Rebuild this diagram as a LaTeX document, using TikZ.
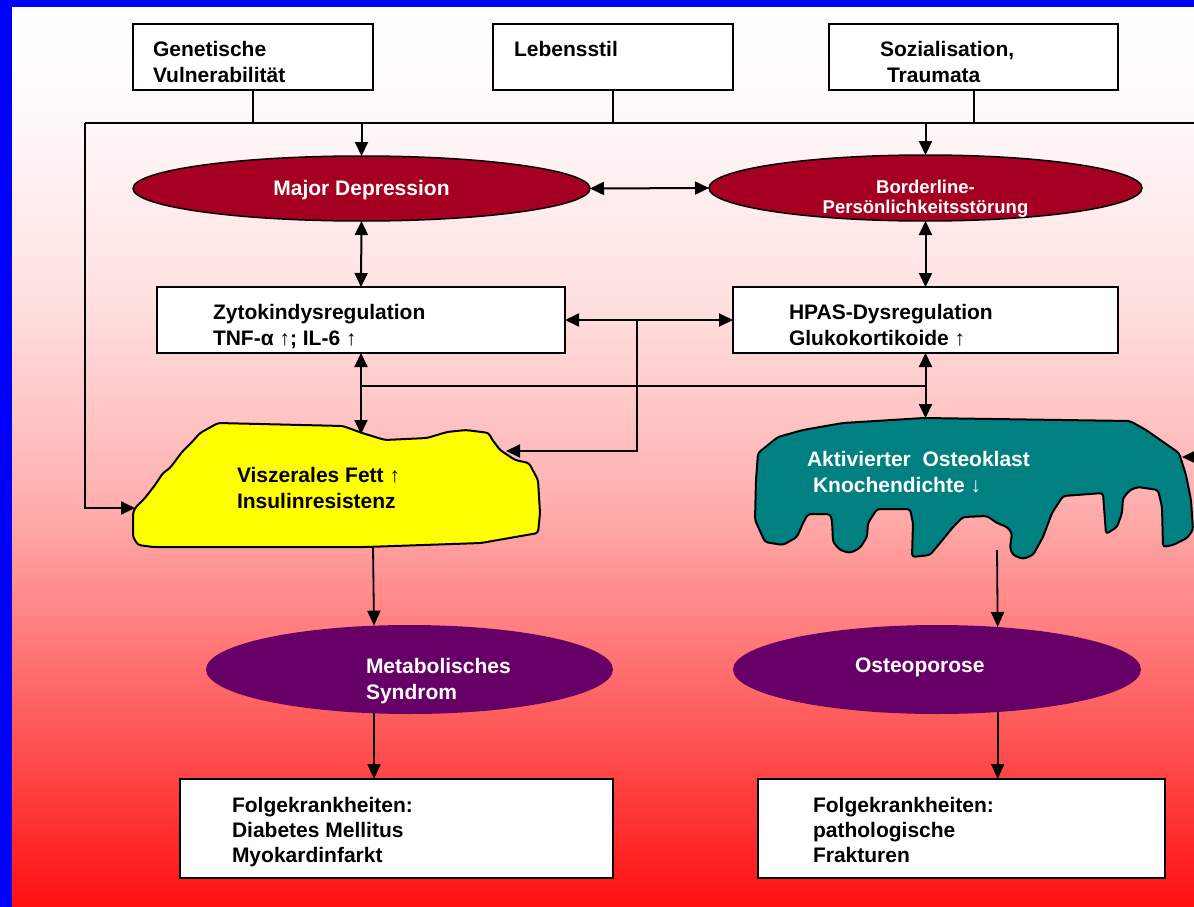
\documentclass[tikz,border=0pt]{standalone}
\usepackage{fontspec}
\setmainfont{Liberation Sans}
\usetikzlibrary{arrows.meta,shapes.geometric}
\definecolor{bgblue}{HTML}{0000FF}
\definecolor{mdred}{HTML}{A50021}
\definecolor{purp}{HTML}{660066}
\definecolor{tealc}{HTML}{008080}
\definecolor{yel}{HTML}{FFFF00}
\colorlet{bgA}{red!94!white}
\colorlet{bgB}{red!69!white}
\colorlet{bgC}{red!40!white}
\colorlet{bgD}{red!31!white}
\colorlet{bgE}{red!12!white}
\colorlet{bgF}{red!2!white}
\pgfdeclareverticalshading{bgshade}{100bp}{color(0bp)=(bgA); color(25bp)=(bgA); color(33.73bp)=(bgB); color(44.3bp)=(bgC); color(47.64bp)=(bgD); color(58.76bp)=(bgE); color(69.88bp)=(bgF); color(75bp)=(white); color(100bp)=(white)}
% text block: #1 = offset of left edge from node centre, #2 = lift of first baseline
\newcommand\txtat[3]{\makebox[0pt][l]{\hspace*{#1}\raisebox{#2}[0pt][0pt]{\begin{tabular}[t]{@{}l@{}}#3\end{tabular}}}}
\newcommand\ctxt[2]{\makebox[0pt][c]{\raisebox{#1}[0pt][0pt]{\begin{tabular}[t]{@{}c@{}}#2\end{tabular}}}}
\newcommand\uarr{{\mdseries ↑}}
\newcommand\darr{{\mdseries ↓}}
\begin{document}
\begin{tikzpicture}[x=1pt,y=-1pt,
  every node/.style={inner sep=0pt, outer sep=0pt, font=\fontsize{21}{26}\selectfont\bfseries},
  box/.style={rectangle, draw=black, fill=white, line width=2pt, minimum height=66pt},
  oval/.style={ellipse, fill=mdred, draw=black, line width=1.5pt, text=white},
  poval/.style={ellipse, fill=purp, text=white, minimum height=89pt},
  blob/.style={draw=black, line width=2pt, rounded corners=3pt},
  conn/.style={line width=2pt},
  arr/.style={conn, -{Triangle[length=14pt,width=13pt]}},
  darr/.style={conn, {Triangle[length=14pt,width=13pt]}-{Triangle[length=14pt,width=13pt]}},
  botarr/.style={line width=1.8pt, -{Triangle[length=15pt,width=13pt]}},
]
\useasboundingbox (0,0) rectangle (1194,907);
\clip (0,0) rectangle (1194,907);
\fill[bgblue] (0,0) rectangle (1194,907);
\shade[shading=bgshade] (12,8) rectangle (1194,907);

% top boxes
\node[box, minimum width=240pt] (gen) at (253,57) {\txtat{-100pt}{1pt}{Genetische\\Vulnerabilität}};
\node[box, minimum width=240pt] (leb) at (613,57) {\txtat{-99pt}{1pt}{Lebensstil}};
\node[box, minimum width=289pt] (soz) at (973.5,57) {\txtat{-93.5pt}{1pt}{Sozialisation,\\\hspace*{7pt}Traumata}};

% ellipses
\node[oval, minimum width=457pt, minimum height=65pt] (md) at (361.5,188.5) {\ctxt{-6.5pt}{Major Depression}};
\node[oval, minimum width=433pt, minimum height=66pt, font=\fontsize{18.5}{20}\selectfont\bfseries] (bp) at (925.5,188) {\ctxt{-5pt}{Borderline-\\Persönlichkeitsstörung}};

% regulation boxes
\node[box, minimum width=408pt] (zyt) at (361,320) {\txtat{-148pt}{1pt}{Zytokindysregulation\\TNF-α \uarr; IL-6 \uarr}};
\node[box, minimum width=385pt] (hpa) at (925.5,320) {\txtat{-136.5pt}{1pt}{HPAS-Dysregulation\\Glukokortikoide \uarr}};

% blobs
\filldraw[blob, fill=yel] (218,423) -- (343,426) -- (362,433) -- (385,440) -- (427,438)
 -- (447,432) -- (466,430) -- (489,433) -- (491,438) -- (500,450) -- (515,460) -- (529,463)
 -- (538,480) -- (540,513) -- (538,533) -- (481,543) -- (366,547) -- (153,547) -- (138,545)
 -- (133,537) -- (133,513) -- (135,508) -- (145,498) -- (155,485) -- (163,473) -- (170,468)
 -- (182,452) -- (192,442) -- (200,433) -- cycle;
\filldraw[blob, fill=tealc] (758,453) -- (778,437) -- (803,430) -- (843,423) -- (924,418)
 -- (1130,421) -- (1146,430) -- (1179,453) -- (1186,475) -- (1191,500) -- (1193,530)
 -- (1187,538) -- (1173,545) -- (1163,547) -- (1162,507) -- (1158,490) -- (1138,487)
 -- (1130,490) -- (1123,498) -- (1122,513) -- (1117,527) -- (1106,534)
 -- (1104,507) -- (1103,493) -- (1063,496) -- (1052,513) -- (1043,537) -- (1033,555)
 -- (1023,559) -- (1013,555) -- (1010,548) -- (1012,533) -- (1007,527) -- (997,523)
 -- (987,516) -- (963,517) -- (953,527) -- (940,543) -- (930,555) -- (912,557)
 -- (913,523) -- (910,509) -- (877,509) -- (868,523) -- (867,537) -- (860,548)
 -- (850,553) -- (840,550) -- (833,542) -- (832,520) -- (830,514) -- (808,514)
 -- (803,523) -- (797,537) -- (783,545) -- (765,542) -- (755,520) -- (756,480) -- cycle;
\node[text=black] (fattxt) at (237,482) {\txtat{0pt}{0pt}{Viszerales Fett \uarr\\Insulinresistenz}};
\node[text=white] (osttxt) at (807,466) {\txtat{0pt}{0pt}{Aktivierter\ \ Osteoklast\\\hspace*{6pt}Knochendichte \darr}};

% purple ellipses
\node[poval, minimum width=407pt] (ms) at (409.5,669.5) {\txtat{-43.5pt}{-3.5pt}{Metabolisches\\Syndrom}};
\node[poval, minimum width=408pt] (op) at (937,669.5) {\txtat{-82pt}{-2.5pt}{Osteoporose}};

% bottom boxes
\node[box, minimum width=433pt, minimum height=99pt, font=\fontsize{21}{25}\selectfont\bfseries] (fl) at (396.5,828.5) {\txtat{-164.5pt}{16.5pt}{Folgekrankheiten:\\Diabetes Mellitus\\Myokardinfarkt}};
\node[box, minimum width=407pt, minimum height=99pt, font=\fontsize{21}{25}\selectfont\bfseries] (fr) at (961.5,828.5) {\txtat{-148.5pt}{16.5pt}{Folgekrankheiten:\\pathologische\\Frakturen}};

% coordinates on blobs and buses
\coordinate (busL) at (85,123);
\coordinate (busR) at (1210,123);
\coordinate (fatW) at (135,508);
\coordinate (fatE) at (506,451);
\coordinate (fatN) at (361,434);
\coordinate (fatS) at (373,548);
\coordinate (ostE) at (1182,457);
\coordinate (ostN) at (925.5,418);
\coordinate (ostS) at (997,550);
\coordinate (jL) at (361,386);
\coordinate (jR) at (925.5,386);
\coordinate (br) at (637,320);

% connectors
\draw[conn] (gen.south) -- (gen.south |- busL);
\draw[conn] (leb.south) -- (leb.south |- busL);
\draw[conn] (soz.south) -- (soz.south |- busL);
\draw[conn] (busL) -- (busR);
\draw[arr] (md.north |- busL) -- (md.north);
\draw[arr] (bp.north |- busL) -- (bp.north);
\draw[arr] (busL) |- (fatW);
\draw[arr] (busR) |- (ostE);
\draw[darr] (md.east) -- (bp.west);
\draw[darr] (md.south) -- (zyt.north);
\draw[darr] (bp.south) -- (hpa.north);
\draw[darr] (zyt.east) -- (hpa.west);
\draw[arr] (br) |- (fatE);
\draw[darr] (zyt.south) -- (fatN);
\draw[darr] (hpa.south) -- (ostN);
\draw[conn] (jL) -- (jR);
\draw[botarr] (fatS) -- (ms.129.8);
\draw[botarr] (ms.-129.8) -- (ms.-129.8 |- fl.north);
\draw[botarr] (ostS) -- (op.35.3);
\draw[botarr] (op.-35.3) -- (op.-35.3 |- fr.north);
\end{tikzpicture}
\end{document}
